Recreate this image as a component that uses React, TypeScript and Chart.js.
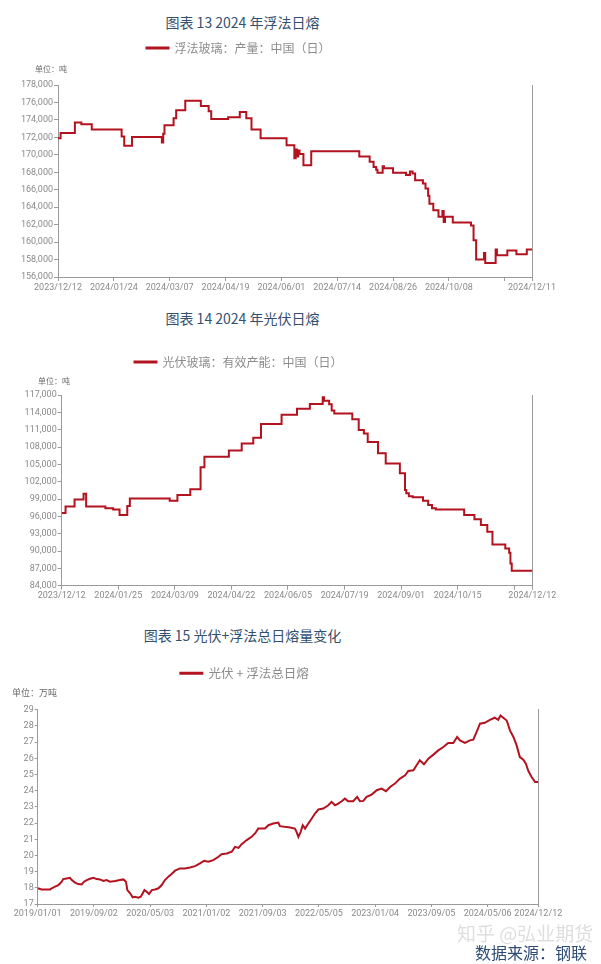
import React, { useEffect, useRef } from 'react';
import { Chart, registerables } from 'chart.js';

Chart.register(...registerables);

const CJK = '"Noto Sans CJK SC", "Noto Sans", sans-serif';
const NUM = 'Roboto, "Liberation Sans", sans-serif';
const RED = '#b3121f';
const AXIS = '#9a9a9a';
const TICK_TXT = '#8a8a8a';

// ---------- Chart 13: float glass daily output (tons), day offset from 2023/12/12 ----------
const FLOAT_LABEL = '浮法玻璃：产量：中国（日）';
const FLOAT_DAY = [0, 2, 13, 18, 26, 49, 51, 57, 80, 81, 82, 89, 91, 98, 110, 116, 118, 131, 140, 145, 149, 156, 176, 182, 183, 184, 185, 186, 189, 195, 232, 240, 243, 245, 246, 250, 251, 258, 268, 271, 273, 275, 281, 283, 285, 286, 289, 293, 296, 297, 298, 304, 318, 320, 322, 328, 329, 337, 338, 346, 353, 361, 365];
const FLOAT_VAL = [171900, 172500, 173700, 173500, 172900, 172100, 171050, 172050, 171400, 172400, 173400, 174200, 175100, 176200, 175600, 175000, 174100, 174300, 174900, 174200, 172900, 171900, 171100, 169600, 170600, 169800, 170500, 170100, 168800, 170400, 169800, 169200, 168600, 168300, 167950, 168700, 168450, 167950, 167700, 168100, 167850, 167100, 166700, 166150, 165300, 164400, 163650, 162900, 163550, 162300, 162900, 162250, 161900, 160200, 158000, 158750, 157600, 159150, 158500, 159050, 158600, 159150, 159150];
const FLOAT_TICK_DAY = [0, 43, 86, 129, 172, 215, 258, 301, 344, 365];
const FLOAT_TICK_LABEL = ['2023/12/12', '2024/01/24', '2024/03/07', '2024/04/19', '2024/06/01', '2024/07/14', '2024/08/26', '2024/10/08', '', '2024/12/11'];

// ---------- Chart 14: PV glass effective capacity (tons), day offset from 2023/12/12 ----------
const PV_LABEL = '光伏玻璃：有效产能：中国（日）';
const PV_DAY = [0, 3, 10, 17, 19, 34, 40, 45, 51, 53, 84, 90, 100, 108, 111, 130, 140, 149, 155, 171, 183, 193, 203, 204, 208, 210, 212, 226, 231, 235, 238, 246, 252, 263, 267, 268, 270, 273, 281, 285, 288, 291, 313, 321, 326, 331, 335, 345, 348, 349, 350, 366];
const PV_VAL = [96600, 97700, 98900, 99900, 97700, 97400, 97200, 96250, 97800, 99100, 98700, 99700, 100700, 104500, 106300, 107400, 108600, 109600, 112000, 113600, 114600, 115450, 116600, 116000, 115400, 114300, 113800, 112800, 110950, 110350, 108850, 106900, 105150, 103450, 100550, 100000, 99500, 99300, 98700, 97950, 97400, 97200, 96250, 95500, 94500, 93350, 91150, 90450, 89700, 87850, 86600, 86600];
const PV_TICK_DAY = [0, 44, 88, 132, 176, 220, 264, 308, 352, 366];
const PV_TICK_LABEL = ['2023/12/12', '2024/01/25', '2024/03/09', '2024/04/22', '2024/06/05', '2024/07/19', '2024/09/01', '2024/10/15', '', '2024/12/12'];

// ---------- Chart 15: PV + float total daily melt (10k tons), day offset from 2019/01/01 ----------
const TOTAL_LABEL = '光伏 + 浮法总日熔';
const TOTAL_DAY = [0, 17, 54, 61, 75, 90, 97, 104, 111, 126, 140, 148, 162, 176, 191, 201, 213, 227, 242, 256, 270, 285, 299, 314, 336, 357, 372, 383, 389, 401, 412, 422, 437, 447, 456, 463, 473, 483, 495, 509, 524, 538, 552, 567, 581, 596, 617, 639, 661, 683, 704, 722, 740, 762, 784, 798, 820, 842, 856, 871, 885, 907, 928, 943, 957, 972, 986, 1001, 1022, 1044, 1051, 1095, 1116, 1123, 1131, 1141, 1150, 1160, 1174, 1189, 1203, 1218, 1239, 1261, 1275, 1290, 1304, 1319, 1333, 1347, 1369, 1386, 1398, 1413, 1427, 1449, 1471, 1492, 1511, 1529, 1550, 1572, 1594, 1608, 1630, 1644, 1658, 1676, 1695, 1717, 1738, 1760, 1781, 1803, 1820, 1832, 1854, 1875, 1890, 1904, 1919, 1940, 1962, 1983, 1998, 2008, 2020, 2035, 2049, 2064, 2078, 2092, 2107, 2118, 2129, 2143, 2158, 2172];
const TOTAL_VAL = [17.97, 17.9, 17.9, 17.97, 18.07, 18.17, 18.27, 18.38, 18.54, 18.58, 18.62, 18.48, 18.32, 18.23, 18.21, 18.38, 18.48, 18.56, 18.62, 18.54, 18.52, 18.42, 18.48, 18.38, 18.42, 18.48, 18.52, 18.38, 17.86, 17.66, 17.41, 17.45, 17.39, 17.45, 17.66, 17.86, 17.76, 17.62, 17.86, 17.9, 17.97, 18.17, 18.48, 18.69, 18.85, 19.06, 19.2, 19.2, 19.26, 19.34, 19.51, 19.67, 19.61, 19.71, 19.92, 20.08, 20.12, 20.23, 20.53, 20.47, 20.7, 20.95, 21.15, 21.36, 21.66, 21.66, 21.66, 21.87, 21.97, 22.03, 21.81, 21.73, 21.66, 21.46, 21.15, 21.46, 21.87, 21.66, 21.97, 22.28, 22.59, 22.84, 22.9, 23.1, 23.31, 23.1, 23.2, 23.35, 23.51, 23.35, 23.35, 23.62, 23.35, 23.37, 23.62, 23.76, 24.03, 24.13, 23.97, 24.23, 24.44, 24.75, 24.95, 25.22, 25.26, 25.57, 25.88, 25.63, 25.98, 26.23, 26.49, 26.7, 26.95, 26.95, 27.32, 27.11, 26.95, 27.11, 27.15, 27.62, 28.14, 28.2, 28.38, 28.51, 28.38, 28.65, 28.51, 28.34, 27.73, 27.32, 26.8, 26.08, 25.92, 25.67, 25.22, 24.85, 24.54, 24.54];
const TOTAL_TICK_DAY = [0, 244, 488, 732, 976, 1220, 1464, 1708, 1952, 2172];
const TOTAL_TICK_LABEL = ['2019/01/01', '2019/09/02', '2020/05/03', '2021/01/02', '2021/09/03', '2022/05/05', '2023/01/04', '2023/09/05', '2024/05/06', '2024/12/12'];

type Spec = {
  label: string; days: number[]; vals: number[]; stepped: boolean;
  xMax: number; tickDays: number[]; tickLabels: string[];
  yMin: number; yMax: number; yStep: number; thousands: boolean;
  unit: string; unitSize: number; unitPadTop: number; unitPadBottom: number; unitX: number;
  yWidth: number; rightWidth: number; xHeight: number;
  legendCenter: number; legendSize: number; tickLen: number;
};

// Moves the legend's horizontal centre and the unit title's start x after layout.
const boxShift = {
  id: 'boxShift',
  afterLayout(chart: any, _args: any, opts: any) {
    const lg = chart.legend;
    if (lg && typeof opts.legendCenter === 'number') {
      const half = (lg.right - lg.left) / 2;
      lg.left = opts.legendCenter - half;
      lg.right = opts.legendCenter + half;
    }
    const t = chart.titleBlock;
    if (t && typeof opts.titleX === 'number') {
      const w = t.right - t.left;
      t.left = opts.titleX;
      t.right = opts.titleX + w;
    }
  },
};

function buildConfig(s: Spec): any {
  const points = s.days.map((d, i) => ({ x: d, y: s.vals[i] }));
  const tickFont = { family: NUM, size: 9 };
  return {
    type: 'line',
    data: {
      datasets: [{
        label: s.label, data: points, borderColor: RED, backgroundColor: RED,
        borderWidth: 2, pointRadius: 0, stepped: s.stepped, tension: 0, fill: false,
      }],
    },
    options: {
      responsive: false, animation: false, devicePixelRatio: 1,
      layout: { padding: { left: 0, right: 0, top: 0, bottom: 0 } },
      plugins: {
        legend: {
          display: true, position: 'top',
          labels: { boxWidth: 22, boxHeight: 1, padding: 8, color: '#8c8c8c', font: { family: CJK, size: s.legendSize } },
        },
        title: {
          display: true, text: s.unit, align: 'start', position: 'top', weight: 500,
          color: '#6a6a6a', font: { family: CJK, size: s.unitSize, weight: 'normal', lineHeight: 1.2 },
          padding: { top: s.unitPadTop, bottom: s.unitPadBottom },
        },
        tooltip: { enabled: false },
        boxShift: { legendCenter: s.legendCenter, titleX: s.unitX },
      },
      scales: {
        x: {
          type: 'linear', min: 0, max: s.xMax,
          afterBuildTicks: (scale: any) => { scale.ticks = s.tickDays.map((v) => ({ value: v })); },
          afterFit: (scale: any) => { scale.height = s.xHeight; },
          ticks: { autoSkip: false, maxRotation: 0, minRotation: 0, padding: 1, color: TICK_TXT, font: tickFont,
            callback: (_v: any, i: number) => s.tickLabels[i] },
          grid: { display: true, drawOnChartArea: false, drawTicks: true, tickLength: s.tickLen, color: AXIS },
          border: { display: true, color: AXIS, width: 1 },
        },
        y: {
          type: 'linear', position: 'left', min: s.yMin, max: s.yMax,
          afterFit: (scale: any) => { scale.width = s.yWidth; },
          ticks: { stepSize: s.yStep, padding: 1, color: TICK_TXT, font: tickFont,
            callback: (v: any) => (s.thousands ? Number(v).toLocaleString('en-US') : String(v)) },
          grid: { display: true, drawOnChartArea: false, drawTicks: true, tickLength: s.tickLen, color: AXIS },
          border: { display: true, color: AXIS, width: 1 },
        },
        y2: {
          type: 'linear', position: 'right', display: true,
          afterFit: (scale: any) => { scale.width = s.rightWidth; },
          ticks: { display: false },
          grid: { display: false },
          border: { display: true, color: AXIS, width: 1 },
        },
      },
    },
    plugins: [boxShift],
  };
}

const SPEC_FLOAT: Spec = {
  label: FLOAT_LABEL, days: FLOAT_DAY, vals: FLOAT_VAL, stepped: true,
  xMax: 365, tickDays: FLOAT_TICK_DAY, tickLabels: FLOAT_TICK_LABEL,
  yMin: 156000, yMax: 178000, yStep: 2000, thousands: true,
  unit: '单位：吨', unitSize: 8, unitPadTop: 0, unitPadBottom: 11.4, unitX: 35,
  yWidth: 58, rightWidth: 69, xHeight: 25,
  legendCenter: 238.5, legendSize: 12, tickLen: 4,
};

const SPEC_PV: Spec = {
  label: PV_LABEL, days: PV_DAY, vals: PV_VAL, stepped: true,
  xMax: 366, tickDays: PV_TICK_DAY, tickLabels: PV_TICK_LABEL,
  yMin: 84000, yMax: 117000, yStep: 3000, thousands: true,
  unit: '单位：吨', unitSize: 8, unitPadTop: -2, unitPadBottom: 9.4, unitX: 38,
  yWidth: 61.7, rightWidth: 68.7, xHeight: 25.3,
  legendCenter: 238.5, legendSize: 12, tickLen: 4,
};

const SPEC_TOTAL: Spec = {
  label: TOTAL_LABEL, days: TOTAL_DAY, vals: TOTAL_VAL, stepped: false,
  xMax: 2172, tickDays: TOTAL_TICK_DAY, tickLabels: TOTAL_TICK_LABEL,
  yMin: 17, yMax: 29, yStep: 1, thousands: false,
  unit: '单位：万吨', unitSize: 9, unitPadTop: -2.4, unitPadBottom: 11.9, unitX: 12,
  yWidth: 37.7, rightWidth: 62.7, xHeight: 25,
  legendCenter: 244.5, legendSize: 12.5, tickLen: 3,
};

function ChartCanvas({ top, height, spec }: { top: number; height: number; spec: Spec }) {
  const ref = useRef<HTMLCanvasElement | null>(null);
  useEffect(() => {
    if (!ref.current) return;
    const chart = new Chart(ref.current, buildConfig(spec));
    return () => chart.destroy();
  }, [spec]);
  return (
    <canvas
      ref={ref}
      width={601}
      height={height}
      style={{ position: 'absolute', left: 0, top, width: 601, height, display: 'block' }}
    />
  );
}

const titleStyle = (top: number): React.CSSProperties => ({
  position: 'absolute', left: 92.5, top, width: 300, textAlign: 'center',
  fontFamily: CJK, fontSize: 14, fontWeight: 400, color: '#34506f',
  lineHeight: '20px', whiteSpace: 'nowrap',
});

export default function App() {
  return (
    <div style={{ position: 'absolute', left: 0, top: 0, width: 601, height: 964, background: '#ffffff', overflow: 'hidden' }}>
      <div style={titleStyle(12)}>图表 13 2024 年浮法日熔</div>
      <ChartCanvas top={34} height={268} spec={SPEC_FLOAT} />
      <div style={titleStyle(308)}>图表 14 2024 年光伏日熔</div>
      <ChartCanvas top={348} height={263} spec={SPEC_PV} />
      <div style={titleStyle(625)}>图表 15 光伏+浮法总日熔量变化</div>
      <ChartCanvas top={659} height={270} spec={SPEC_TOTAL} />
      <div style={{ position: 'absolute', left: 457, top: 921, fontFamily: CJK, fontSize: 19, lineHeight: '24px', color: '#dedede', whiteSpace: 'nowrap' }}>知乎 @弘业期货</div>
      <div style={{ position: 'absolute', right: 14, top: 942, fontFamily: CJK, fontSize: 16, lineHeight: '20px', color: '#2d4b74', whiteSpace: 'nowrap' }}>数据来源：钢联</div>
    </div>
  );
}
